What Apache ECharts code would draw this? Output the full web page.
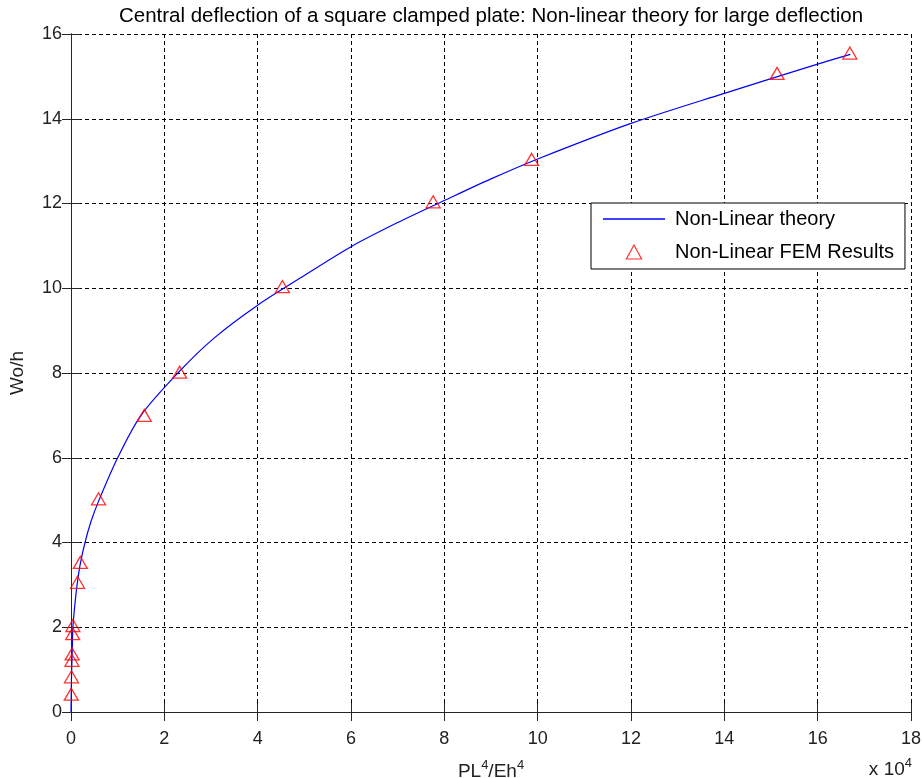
<!DOCTYPE html>
<html>
<head>
<meta charset="utf-8">
<script src="https://cdn.jsdelivr.net/npm/echarts@6/dist/echarts.min.js"></script>
<style>
  html, body { margin: 0; padding: 0; background: #fff; }
  #chart { width: 922px; height: 778px; }
</style>
</head>
<body>
<div id="chart"></div>
<script>
// Non-linear theory curve (x in units of 10^4)
const theoryX = [0, 0.005, 0.01, 0.02, 0.03, 0.04, 0.08, 0.13, 0.2, 0.3, 0.43, 0.6, 1.0, 1.5, 2.29, 3.04, 4.0, 5.0, 6.0, 7.0, 8.0, 9.0, 10.0, 12.0, 14.0, 16.0, 16.7];
const theoryY = [0, 0.4, 0.8, 1.2, 1.6, 2.0, 2.5, 3.0, 3.5, 4.0, 4.5, 5.0, 6.0, 7.0, 8.0, 8.8, 9.6, 10.3, 10.98, 11.55, 12.07, 12.58, 13.05, 13.89, 14.6, 15.29, 15.52];
// FEM results (x in units of 10^4)
const femX = [0.005, 0.01, 0.02, 0.025, 0.035, 0.04, 0.14, 0.2, 0.59, 1.57, 2.33, 4.53, 7.76, 9.87, 15.13, 16.69];
const femY = [0.42, 0.83, 1.22, 1.37, 1.85, 2.04, 3.06, 3.53, 5.03, 7.0, 8.02, 10.04, 12.04, 13.04, 15.07, 15.55];
const xTicks = { min: 0, max: 18, interval: 2 };
const yTicks = { min: 0, max: 16, interval: 2 };
const titleText = 'Central deflection of a square clamped plate: Non-linear theory for large deflection';
const seriesNames = ['Non-Linear theory', 'Non-Linear FEM Results'];

const FONT = 'Liberation Sans, Arial, sans-serif';
const AX = '#262626';

const chart = echarts.init(document.getElementById('chart'));
const axisBase = {
  type: 'value',
  axisLine: { show: true, lineStyle: { color: AX, width: 1 } },
  axisTick: { show: true, inside: true, length: 9, lineStyle: { color: AX } },
};
chart.setOption({
  animation: false,
  backgroundColor: '#fff',
  title: {
    text: titleText,
    left: 486, top: 1, textAlign: 'center',
    textStyle: { fontFamily: FONT, fontSize: 20.5, fontWeight: 'normal', color: '#000' }
  },
  grid: { left: 71, right: 11, top: 34, bottom: 66, containLabel: false, outerBoundsMode: 'none' },
  legend: {
    left: 591, top: 203,
    orient: 'vertical',
    backgroundColor: '#fff',
    borderColor: '#000', borderWidth: 1, borderRadius: 0,
    padding: [6, 11, 7, 12],
    itemWidth: 62, itemHeight: 14, itemGap: 13,
    symbolKeepAspect: true,
    textStyle: { fontFamily: FONT, fontSize: 20, color: '#000', lineHeight: 20, padding: [0, 0, 0, 5] },
    data: [
      { name: seriesNames[0], icon: 'path://M0,0 L62,0 L62,1.3 L0,1.3 Z',
        itemStyle: { color: '#0000ff', borderWidth: 0 } },
      { name: seriesNames[1], icon: 'path://M6.5,0 L13,12 L0,12 Z',
        itemStyle: { color: 'rgba(255,255,255,0)', borderColor: '#ff0000', borderWidth: 1.2 } }
    ]
  },
  xAxis: [
    Object.assign({}, axisBase, {
      min: xTicks.min, max: xTicks.max, interval: xTicks.interval,
      position: 'bottom',
      axisLabel: { margin: 18, fontFamily: FONT, fontSize: 18, color: '#222' },
      splitLine: { show: true, lineStyle: { color: '#000', type: [4, 3], width: 1 } },
      name: '{a|PL}{s|4}{a|/Eh}{s|4}',
      nameLocation: 'middle', nameGap: 47, nameMoveOverlap: false,
      nameTextStyle: { rich: {
        a: { fontFamily: FONT, fontSize: 19, color: '#222' },
        s: { fontFamily: FONT, fontSize: 13, color: '#222', padding: [0, 0, 12, 0] }
      } }
    }),
    Object.assign({}, axisBase, {
      min: xTicks.min, max: xTicks.max, interval: xTicks.interval,
      position: 'top', axisLabel: { show: false }, splitLine: { show: false }
    })
  ],
  yAxis: [
    Object.assign({}, axisBase, {
      min: yTicks.min, max: yTicks.max, interval: yTicks.interval,
      position: 'left',
      axisLabel: { margin: 9, fontFamily: FONT, fontSize: 18, color: '#222' },
      splitLine: { show: true, lineStyle: { color: '#000', type: [4, 3], width: 1 } },
      name: 'Wo/h', nameLocation: 'middle', nameGap: 44, nameRotate: 90, nameMoveOverlap: false,
      nameTextStyle: { fontFamily: FONT, fontSize: 19, color: '#222' }
    }),
    Object.assign({}, axisBase, {
      min: yTicks.min, max: yTicks.max, interval: yTicks.interval,
      position: 'right', axisLabel: { show: false }, splitLine: { show: false }
    })
  ],
  graphic: [{
    type: 'text', right: 10, top: 757,
    style: {
      text: '{a|x 10}{s|4}',
      rich: {
        a: { fontFamily: FONT, fontSize: 19, fill: '#222' },
        s: { fontFamily: FONT, fontSize: 13, fill: '#222', padding: [0, 0, 12, 0] }
      }
    }
  }],
  series: [
    {
      name: seriesNames[0], type: 'line',
      data: theoryX.map((x, i) => [x, theoryY[i]]),
      symbol: 'none', smooth: 0.3,
      lineStyle: { color: '#0000ff', width: 1.2 },
      itemStyle: { color: '#0000ff' },
      z: 3
    },
    {
      name: seriesNames[1], type: 'scatter',
      data: femX.map((x, i) => [x, femY[i]]),
      symbol: 'triangle', symbolSize: [14, 12],
      itemStyle: { color: 'rgba(255,255,255,0)', borderColor: '#ff0000', borderWidth: 1.3 },
      z: 4
    }
  ]
});
</script>
</body>
</html>
